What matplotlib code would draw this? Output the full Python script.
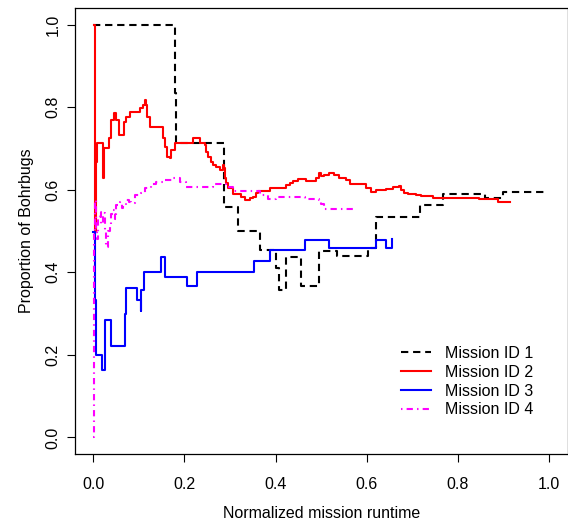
import matplotlib
matplotlib.use("Agg")
import matplotlib.pyplot as plt

plt.rcParams['font.family'] = ['Liberation Sans', 'DejaVu Sans']

# ---- data ----
m1_x = [0.0, 0.180, 0.182, 0.287, 0.317, 0.366, 0.400, 0.408, 0.423, 0.456, 0.496, 0.534,
        0.602, 0.620, 0.717, 0.766, 0.860, 0.898, 0.995]
m1_y = [1.0, 0.834, 0.714, 0.557, 0.500, 0.454, 0.410, 0.357, 0.438, 0.367, 0.452, 0.440,
        0.458, 0.533, 0.563, 0.589, 0.581, 0.594, 0.594]

m2_x = [0.0026, 0.003, 0.0055, 0.0084, 0.0205, 0.0235, 0.0347, 0.0398, 0.0457, 0.0493, 0.0566,
        0.0676, 0.0726, 0.080, 0.102, 0.109, 0.113, 0.115, 0.117, 0.124, 0.153, 0.157, 0.162,
        0.169, 0.171, 0.179, 0.219, 0.235, 0.244, 0.248, 0.252, 0.259, 0.263, 0.270, 0.277,
        0.285, 0.287, 0.289, 0.292, 0.295, 0.306, 0.325, 0.332, 0.344, 0.350, 0.357, 0.361,
        0.388, 0.423, 0.431, 0.438, 0.449, 0.467, 0.489, 0.496, 0.500, 0.507, 0.518, 0.529,
        0.540, 0.554, 0.562, 0.587, 0.598, 0.609, 0.620, 0.642, 0.657, 0.671, 0.675, 0.682,
        0.690, 0.708, 0.719, 0.744, 0.846, 0.887, 0.913]
m2_y = [1.0, 0.500, 0.667, 0.714, 0.628, 0.700, 0.726, 0.769, 0.785, 0.769, 0.733,
        0.765, 0.777, 0.789, 0.797, 0.805, 0.817, 0.805, 0.777, 0.751, 0.724, 0.704, 0.680,
        0.676, 0.696, 0.714, 0.724, 0.712, 0.708, 0.692, 0.680, 0.668, 0.660, 0.656, 0.648,
        0.660, 0.652, 0.628, 0.616, 0.603, 0.589, 0.583, 0.574, 0.579, 0.583, 0.591, 0.597,
        0.603, 0.611, 0.616, 0.622, 0.626, 0.621, 0.628, 0.640, 0.632, 0.636, 0.641, 0.636,
        0.628, 0.624, 0.615, 0.614, 0.603, 0.595, 0.599, 0.601, 0.606, 0.609, 0.599, 0.593,
        0.589, 0.586, 0.584, 0.581, 0.577, 0.571, 0.571]

m3_x = [0.0, 0.0033, 0.0055, 0.007, 0.0201, 0.0252, 0.0398, 0.069, 0.0726, 0.0967, 0.104,
        0.1045, 0.111, 0.149, 0.158, 0.206, 0.227, 0.352, 0.388, 0.465, 0.517, 0.619, 0.641,
        0.656]
m3_y = [0.498, 0.333, 0.248, 0.199, 0.163, 0.284, 0.221, 0.298, 0.363, 0.333, 0.306,
        0.357, 0.400, 0.436, 0.388, 0.367, 0.400, 0.427, 0.454, 0.477, 0.458, 0.478, 0.460,
        0.480]

m4_x = [0.0, 0.0015, 0.003, 0.005, 0.007, 0.009, 0.0106, 0.0142, 0.0179, 0.0215, 0.025,
        0.0288, 0.032, 0.0361, 0.040, 0.0434, 0.047, 0.0507, 0.058, 0.062, 0.0653, 0.0726,
        0.078, 0.0836, 0.0909, 0.105, 0.113, 0.127, 0.138, 0.153, 0.175, 0.190, 0.204, 0.263,
        0.292, 0.306, 0.366, 0.383, 0.400, 0.465, 0.496, 0.500, 0.507, 0.577]
m4_y = [0.0, 0.500, 0.575, 0.520, 0.500, 0.480, 0.535, 0.547, 0.518, 0.543, 0.500,
        0.462, 0.500, 0.518, 0.540, 0.551, 0.530, 0.563, 0.571, 0.555, 0.563, 0.575,
        0.570, 0.567, 0.587, 0.591, 0.603, 0.615, 0.619, 0.624, 0.628, 0.619, 0.607, 0.615,
        0.607, 0.597, 0.587, 0.577, 0.582, 0.577, 0.574, 0.565, 0.553, 0.553]

labels = ["Mission ID 1", "Mission ID 2", "Mission ID 3", "Mission ID 4"]
ticks = [0.0, 0.2, 0.4, 0.6, 0.8, 1.0]
tick_labels = ["0.0", "0.2", "0.4", "0.6", "0.8", "1.0"]

# ---- figure ----
W, H = 568, 521
fs = 11.5
fig = plt.figure(figsize=(W / 100, H / 100), dpi=100)
ax = fig.add_axes([75 / W, (H - 454) / H, (567.5 - 75) / W, (454 - 8) / H])

lw = 1.5
ax.plot(m1_x, m1_y, drawstyle='steps-post', color='black', lw=lw, dashes=(3.5, 2.3), label=labels[0])
ax.plot(m2_x, m2_y, drawstyle='steps-post', color='#ff0000', lw=lw, label=labels[1])
ax.plot(m3_x, m3_y, drawstyle='steps-post', color='#0000ff', lw=lw, label=labels[2])
ax.plot(m4_x, m4_y, drawstyle='steps-post', color='#ff00ff', lw=lw, dashes=(0.7, 2.0, 3.0, 2.0), label=labels[3])

ax.set_xlim(-0.04, 1.04)
ax.set_ylim(-0.04, 1.04)
ax.set_xticks(ticks)
ax.set_xticklabels(tick_labels)
ax.set_yticks(ticks)
ax.set_yticklabels(tick_labels, rotation=90, va='center')
ax.tick_params(axis='both', direction='out', length=5.5, width=0.8, labelsize=fs)
ax.tick_params(axis='x', pad=11)
ax.tick_params(axis='y', pad=5)
for s in ax.spines.values():
    s.set_linewidth(0.9)

ax.set_xlabel("Normalized mission runtime", fontsize=fs, labelpad=10.5)
ax.set_ylabel("Proportion of Bohrbugs", fontsize=fs, labelpad=8)

leg = ax.legend(loc='upper left', bbox_to_anchor=(401 / W, (H - 346) / H),
                bbox_transform=fig.transFigure, frameon=False, fontsize=fs,
                handlelength=1.9, handletextpad=0.85, labelspacing=0.24,
                borderpad=0, borderaxespad=0)

fig.savefig("out.png", dpi=100)
